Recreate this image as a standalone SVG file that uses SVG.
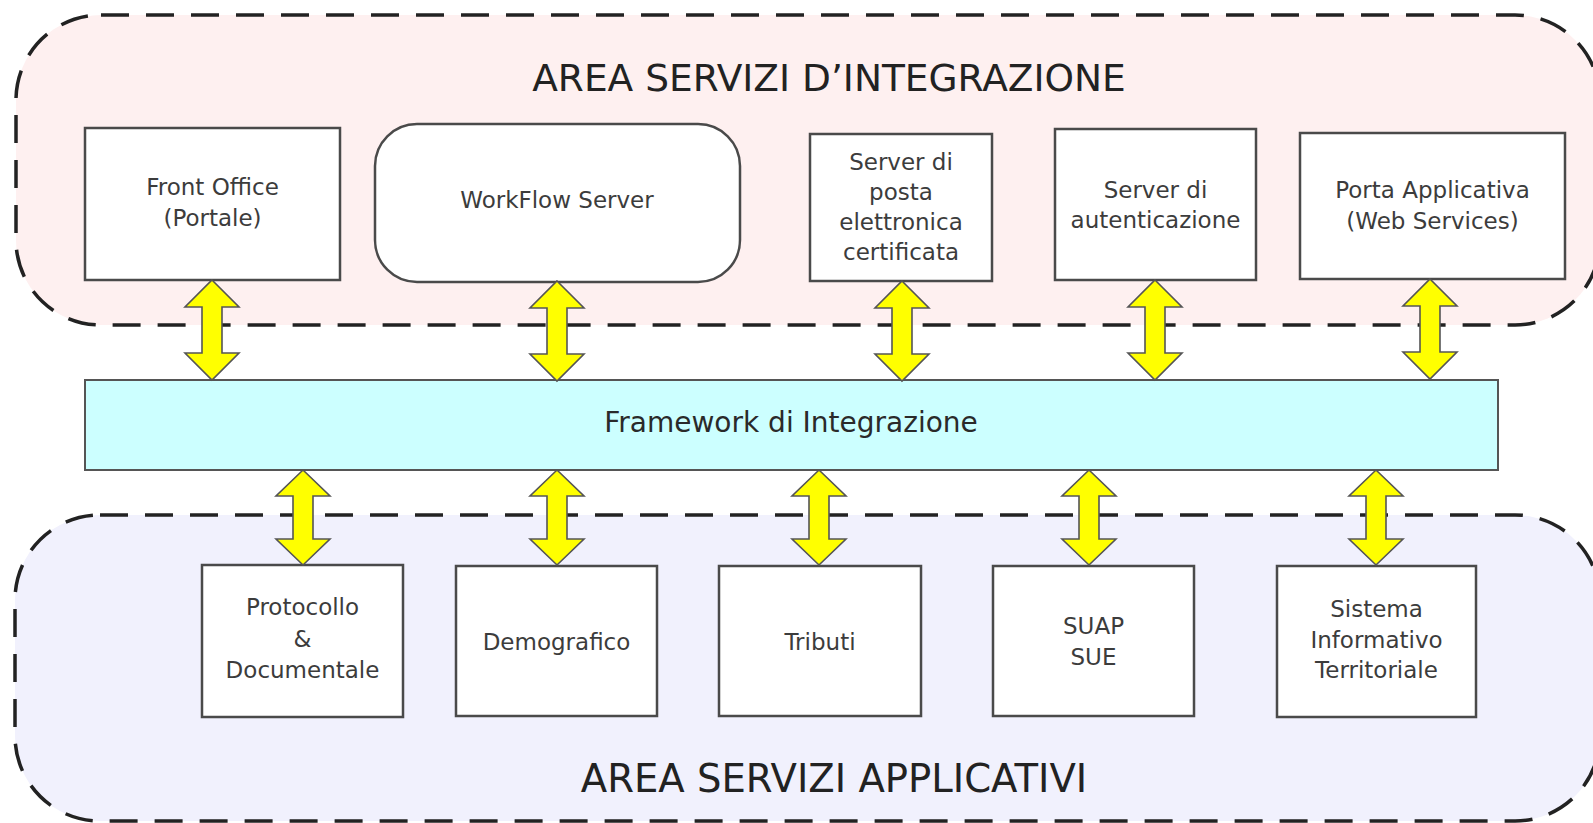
<svg xmlns="http://www.w3.org/2000/svg" width="1593" height="823" viewBox="0 0 1593 823">
<style>
.area{stroke:#222;stroke-width:3.5;stroke-dasharray:28 17}
.box{fill:#fff;stroke:#4a4a4a;stroke-width:2.5}
.fw{fill:#ccffff;stroke:#555;stroke-width:2}
.arr{fill:#ffff00;stroke:#555;stroke-width:1.6;stroke-linejoin:miter}
.t{font-family:"DejaVu Sans",Verdana,sans-serif;font-size:23px;fill:#3c3c3c;text-anchor:middle}
.title{font-family:"DejaVu Sans",Verdana,sans-serif;font-size:37.5px;fill:#222;text-anchor:middle}
.fwt{font-family:"DejaVu Sans",Verdana,sans-serif;font-size:28px;fill:#2a2a2a;text-anchor:middle}
</style>
<defs>
<path id="arrTop" d="M0,0 L27,27 L10,27 L10,73 L27,73 L0,100 L-27,73 L-10,73 L-10,27 L-27,27 Z"/>
<path id="arrBot" d="M0,0 L27,26 L10,26 L10,69 L27,69 L0,95 L-27,69 L-10,69 L-10,26 L-27,26 Z"/>
</defs>
<rect width="1593" height="823" fill="#fff"/>
<g id="area-integrazione">
<rect class="area" x="16" y="15" width="1584" height="310" rx="85" ry="85" fill="#fef0f0"/>
<text class="title" x="829" y="91">AREA SERVIZI D’INTEGRAZIONE</text>
</g>
<g id="area-applicativi">
<rect class="area" x="15" y="515" width="1585" height="306" rx="85" ry="85" fill="#f1f1fd"/>
<text class="title" x="834" y="792" style="font-size:38.6px">AREA SERVIZI APPLICATIVI</text>
</g>
<g id="front-office">
<rect class="box" x="85" y="128" width="255" height="152"/>
<text class="t" x="212.5" y="195">Front Office</text>
<text class="t" x="212.5" y="226">(Portale)</text>
</g>
<g id="workflow-server">
<rect class="box" x="375" y="124" width="365" height="158" rx="42" ry="42"/>
<text class="t" x="557" y="208">WorkFlow Server</text>
</g>
<g id="server-posta">
<rect class="box" x="810" y="134" width="182" height="147"/>
<text class="t" x="901" y="170">Server di</text>
<text class="t" x="901" y="200">posta</text>
<text class="t" x="901" y="230">elettronica</text>
<text class="t" x="901" y="260">certificata</text>
</g>
<g id="server-autenticazione">
<rect class="box" x="1055" y="129" width="201" height="151"/>
<text class="t" x="1155.5" y="198">Server di</text>
<text class="t" x="1155.5" y="228">autenticazione</text>
</g>
<g id="porta-applicativa">
<rect class="box" x="1300" y="133" width="265" height="146"/>
<text class="t" x="1432.5" y="198">Porta Applicativa</text>
<text class="t" x="1432.5" y="229">(Web Services)</text>
</g>
<g id="framework">
<rect class="fw" x="85" y="380" width="1413" height="90"/>
<text class="fwt" x="791" y="432">Framework di Integrazione</text>
</g>
<g id="protocollo">
<rect class="box" x="202" y="565" width="201" height="152"/>
<text class="t" x="302.5" y="615">Protocollo</text>
<text class="t" x="302.5" y="647">&amp;</text>
<text class="t" x="302.5" y="678">Documentale</text>
</g>
<g id="demografico">
<rect class="box" x="456" y="566" width="201" height="150"/>
<text class="t" x="556.5" y="650">Demografico</text>
</g>
<g id="tributi">
<rect class="box" x="719" y="566" width="202" height="150"/>
<text class="t" x="820" y="650">Tributi</text>
</g>
<g id="suap-sue">
<rect class="box" x="993" y="566" width="201" height="150"/>
<text class="t" x="1093.5" y="634">SUAP</text>
<text class="t" x="1093.5" y="665">SUE</text>
</g>
<g id="sit">
<rect class="box" x="1277" y="566" width="199" height="151"/>
<text class="t" x="1376.5" y="617">Sistema</text>
<text class="t" x="1376.5" y="648">Informativo</text>
<text class="t" x="1376.5" y="678">Territoriale</text>
</g>
<g id="connectors">
<use href="#arrTop" class="arr" x="212" y="280"/>
<use href="#arrTop" class="arr" x="557" y="281"/>
<use href="#arrTop" class="arr" x="902" y="281"/>
<use href="#arrTop" class="arr" x="1155" y="280"/>
<use href="#arrTop" class="arr" x="1430" y="279"/>
<use href="#arrBot" class="arr" x="303" y="470"/>
<use href="#arrBot" class="arr" x="557" y="470"/>
<use href="#arrBot" class="arr" x="819" y="470"/>
<use href="#arrBot" class="arr" x="1089" y="470"/>
<use href="#arrBot" class="arr" x="1376" y="470"/>
</g>
</svg>
